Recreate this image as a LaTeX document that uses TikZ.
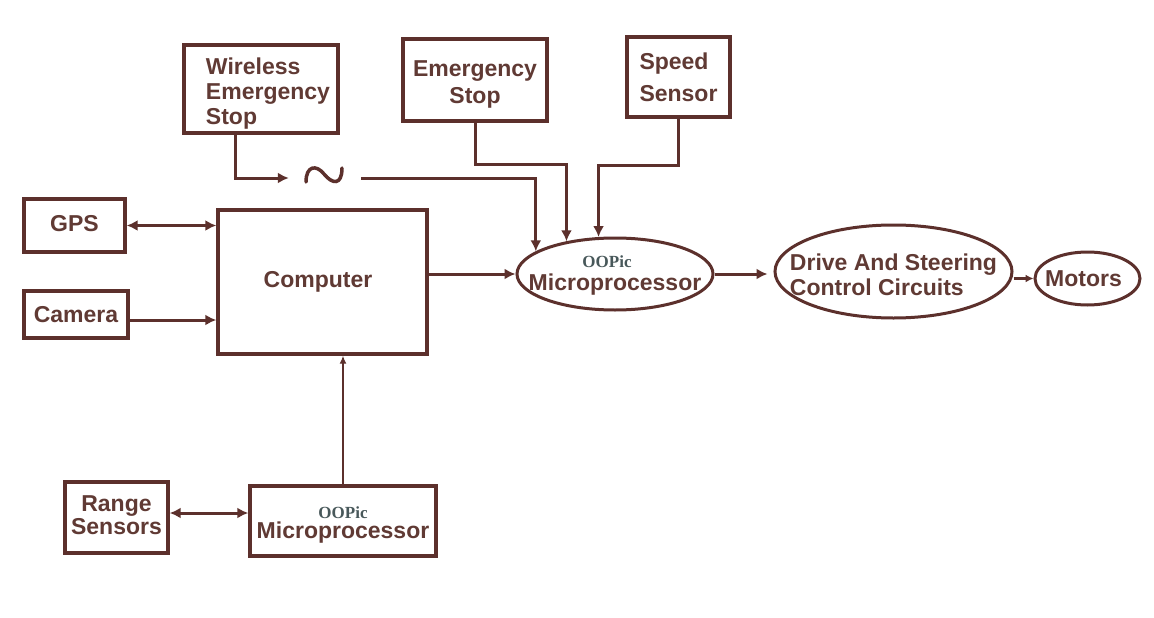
\documentclass[tikz,border=0pt]{standalone}
\usepackage{fontspec}
\setmainfont{Liberation Sans}
\newfontfamily\oopfont{Liberation Serif}
\usetikzlibrary{arrows.meta,shapes.geometric}
\definecolor{dc}{RGB}{92,48,44}
\definecolor{tc}{RGB}{96,58,52}
\definecolor{oc}{RGB}{72,88,90}
\newcommand\zw[1]{\makebox[0pt]{#1}}
\newcommand\oop{{\oopfont\bfseries\fontsize{17}{18}\selectfont\color{oc}OOPic}}
% multi-line text: #1 alignment, #2 downward shift, #3 lines
\newcommand\ml[3]{\raisebox{-#2}[\height][\depth]{\begin{tabular}{@{}#1@{}}#3\end{tabular}}}
\begin{document}
\begin{tikzpicture}[x=1pt,y=-1pt,
  every node/.style={font=\bfseries\fontsize{23}{25}\selectfont, text=tc},
  blk/.style={draw=dc, line width=3.4pt, rectangle, inner sep=0pt},
  ell/.style={draw=dc, line width=3pt, ellipse, inner sep=0pt},
  conn/.style={draw=dc, line width=3pt, -{Latex[length=11pt,width=11pt]}},
  dconn/.style={conn, {Latex[length=11pt,width=11pt]}-{Latex[length=11pt,width=11pt]}},
  thin/.style={draw=dc, line width=1.4pt, -{Latex[length=8pt,width=7pt]}},
  small/.style={conn, -{Latex[length=8pt,width=8pt]}}
  ]
\useasboundingbox (0,0) rectangle (1154,618);
\fill[white] (0,0) rectangle (1154,618);

% boxes
\node[blk, minimum width=154, minimum height=88] (wes) at (261,89)
  {\hspace*{14pt}\ml{l}{6pt}{Wireless\\Emergency\\Stop}};
\node[blk, minimum width=144, minimum height=82] (es) at (475,80)
  {\ml{c}{5pt}{Emergency\\[2pt]Stop}};
\node[blk, minimum width=103, minimum height=80] (ss) at (678.5,77)
  {\ml{l}{4pt}{Speed\\[7pt]Sensor}};
\node[blk, minimum width=101, minimum height=53] (gps) at (74.5,225.5) {\raisebox{2pt}[\height][\depth]{GPS}};
\node[blk, minimum width=104, minimum height=47] (cam) at (76,314.5) {Camera};
\node[blk, minimum width=209, minimum height=144] (comp) at (322.5,282) {\hspace*{-9pt}Computer};
\node[blk, minimum width=103, minimum height=71] (rs) at (116.5,517.5)
  {\ml{c}{0pt}{Range\\[-2pt]Sensors}};
\node[blk, minimum width=186, minimum height=70] (mp2) at (343,521)
  {\ml{c}{2pt}{\oop\\[-5pt]Microprocessor}};

% ellipses
\node[ell, minimum width=196, minimum height=72] (mp1) at (615,274)
  {\zw{\ml{c}{0pt}{\hspace*{-16pt}\oop\\[-2pt]Microprocessor}}};
\node[ell, minimum width=237, minimum height=93] (drv) at (893.5,271.5)
  {\zw{\ml{l}{6pt}{Drive And Steering\\Control Circuits}}};
\node[ell, minimum width=105, minimum height=53] (mot) at (1087.5,278.5)
  {\zw{\hspace*{-8pt}Motors}};

% tilde (wireless link)
\node[minimum width=72, minimum height=20, inner sep=0pt] (tl) at (325,178) {};
\draw[dc, line width=3.5pt, line cap=round, shift={(tl.center)}]
  (-19,4) .. controls (-19,-12) and (-9,-14) .. (-1,-4)
  .. controls (7,6) and (17,8) .. (17,-10);

% connectors
\draw[dconn] (gps.east) -- (comp.west |- gps.east);
\draw[conn] ([yshift=-5.5pt]cam.east) -- ([yshift=-5.5pt]comp.west |- cam.east);
\draw[conn] (comp.east |- mp1.west) -- (mp1.west);
\draw[thin] (mp2.north) -- (comp.south -| mp2.north);
\draw[dconn] ([yshift=4.5pt]rs.east) -- ([yshift=4.5pt]mp2.west |- rs.east);
\draw[conn] ([xshift=-26pt]wes.south) |- (tl.west);
\draw[conn] (tl.east) -| (mp1.164);
\draw[conn] (es.south) -- ++(0,42) -| (mp1.146);
\draw[conn] (ss.south) -- ++(0,47) -| (mp1.114);
\draw[conn, shorten >=6pt] (mp1.east) -- (mp1.east -| drv.west);
\draw[small] (mot.west -| drv.east) -- (mot.west);
\end{tikzpicture}
\end{document}
